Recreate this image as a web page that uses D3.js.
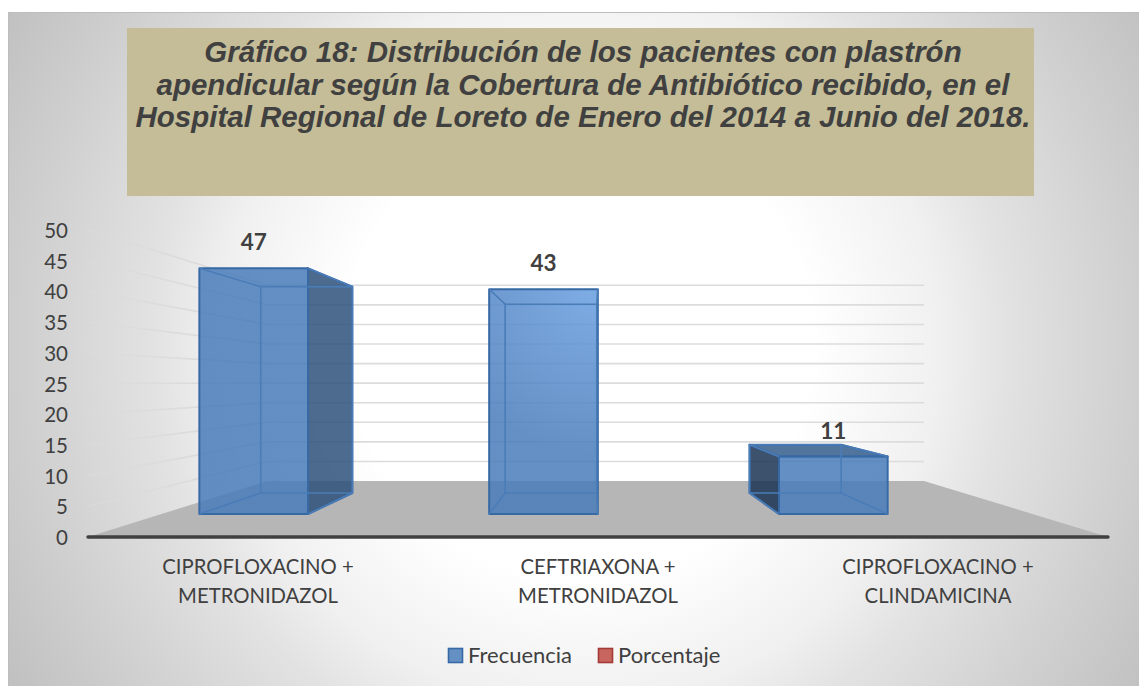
<!DOCTYPE html>
<html><head><meta charset="utf-8">
<script src="https://cdn.jsdelivr.net/npm/d3@7/dist/d3.min.js"></script>
<style>html,body{margin:0;padding:0;background:#fff;overflow:hidden}svg{display:block}</style>
</head><body><svg id="c" width="1139" height="686"></svg>
<script>
const titleLines = ["Gráfico 18: Distribución de los pacientes con plastrón","apendicular según la Cobertura de Antibiótico recibido, en el","Hospital Regional de Loreto de Enero del 2014 a Junio del 2018."];
const categories = [["CIPROFLOXACINO +","METRONIDAZOL"],["CEFTRIAXONA +","METRONIDAZOL"],["CIPROFLOXACINO +","CLINDAMICINA"]];
const seriesNames = ["Frecuencia","Porcentaje"];
const frecuencia = [47,43,11];
const yTicks = [0,5,10,15,20,25,30,35,40,45,50];

const svg = d3.select("#c");
const defs = svg.append("defs");
const bgGrad = defs.append("radialGradient").attr("id","bg").attr("gradientUnits","userSpaceOnUse")
  .attr("cx",580).attr("cy",345).attr("r",680);
[[0,"#fff"],[.34,"#fff"],[.53,"#f0f0f0"],[.63,"#e2e2e2"],[.81,"#d0d0d0"],[1,"#bebebe"]].forEach(s=>bgGrad.append("stop").attr("offset",s[0]).attr("stop-color",s[1]));
const wallGrad = defs.append("linearGradient").attr("id","wall").attr("gradientUnits","userSpaceOnUse")
  .attr("x1",88).attr("x2",267).attr("y1",0).attr("y2",0);
wallGrad.append("stop").attr("offset",0).attr("stop-color","#dcdcdc").attr("stop-opacity",.55);
wallGrad.append("stop").attr("offset",1).attr("stop-color","#d6d6d6").attr("stop-opacity",1);
const glow = defs.append("radialGradient").attr("id","front").attr("gradientUnits","userSpaceOnUse")
  .attr("cx",600).attr("cy",285).attr("r",170);
glow.append("stop").attr("offset",0).attr("stop-color","#6ea2e2").attr("stop-opacity",.88);
glow.append("stop").attr("offset",1).attr("stop-color","#497cba").attr("stop-opacity",.85);

svg.append("rect").attr("x",8.5).attr("y",12.5).attr("width",1140).attr("height",680)
  .attr("fill","url(#bg)").attr("stroke","#bdbdbd");

// title box
svg.append("rect").attr("x",127).attr("y",28).attr("width",907).attr("height",168).attr("fill","#c4bd97");
svg.append("g").selectAll("text").data(titleLines).join("text")
  .attr("x",583).attr("y",(d,i)=>62+i*32.5).attr("text-anchor","middle")
  .attr("font-family","'Liberation Sans',Arial,sans-serif").attr("font-weight","bold").attr("font-style","italic")
  .attr("font-size",29.5).attr("fill","#404040").text(d=>d);

// perspective frame: front plane (depth 0) to back wall (depth 1)
const yFront = d3.scaleLinear().domain([0,50]).range([537,230]);
const yBack = d3.scaleLinear().domain([0,50]).range([481,285.3]);
const xLeft = d3.scaleLinear().domain([0,1]).range([88,267]);
const xRight = d3.scaleLinear().domain([0,1]).range([1108,924]);
const yAt = (v,t)=>yFront(v)+(yBack(v)-yFront(v))*t;
const xAt = (u,t)=>xLeft(t)+(xRight(t)-xLeft(t))*u;
const pt = (u,v,t)=>[xAt(u,t),yAt(v,t)];
const poly = p=>p.map(q=>q.join(",")).join(" ");

// floor
svg.append("polygon").attr("points",poly([pt(0,0,0),pt(0,0,1),pt(1,0,1),pt(1,0,0)])).attr("fill","#b6b6b6");
// gridlines
const gv = yTicks.filter(v=>v>0);
svg.append("g").selectAll("line").data(gv).join("line")
  .attr("x1",xLeft(0)).attr("y1",v=>yFront(v)+.01).attr("x2",xLeft(1)).attr("y2",v=>yBack(v))
  .attr("stroke","url(#wall)").attr("stroke-width",1.6);
svg.append("g").selectAll("line").data(gv).join("line")
  .attr("x1",xLeft(1)).attr("y1",v=>yBack(v)).attr("x2",xRight(1)).attr("y2",v=>yBack(v))
  .attr("stroke","#dcdcdc").attr("stroke-width",1.6);

// bars
const band = d3.scaleBand().domain(d3.range(categories.length)).range([.002,1]);
const inner = d3.scaleBand().domain(seriesNames).range([0,band.bandwidth()]).paddingInner(0).paddingOuter(1/3);
const zFront=.41, zBack=.786;
const EDGE="#376aa5", INNER="#4a7cb8";
frecuencia.forEach((v,i)=>{
  const u0=band(i)+inner("Frecuencia"), u1=u0+inner.bandwidth();
  const A={bl:pt(u0,0,zFront),br:pt(u1,0,zFront),tl:pt(u0,v,zFront),tr:pt(u1,v,zFront)};
  const B={bl:pt(u0,0,zBack),br:pt(u1,0,zBack),tl:pt(u0,v,zBack),tr:pt(u1,v,zBack)};
  const g=svg.append("g");
  const leftOut=B.tl[0]<A.tl[0]-1, rightOut=B.tr[0]>A.tr[0]+1, topOut=B.tl[1]<A.tl[1]-1;
  if(rightOut) g.append("polygon").attr("points",poly([A.tr,B.tr,B.br,A.br])).attr("fill","rgba(46,81,122,.85)").attr("stroke",EDGE).attr("stroke-width",2).attr("stroke-linejoin","round");
  if(leftOut) g.append("polygon").attr("points",poly([A.tl,B.tl,B.bl,A.bl])).attr("fill","rgba(27,52,84,.85)").attr("stroke",EDGE).attr("stroke-width",2).attr("stroke-linejoin","round");
  if(topOut) g.append("polygon").attr("points",poly([A.tl,B.tl,B.tr,A.tr])).attr("fill","rgba(58,98,144,.88)").attr("stroke",EDGE).attr("stroke-width",2).attr("stroke-linejoin","round");
  g.append("polygon").attr("points",poly([A.tl,A.tr,A.br,A.bl])).attr("fill","url(#front)").attr("stroke",EDGE).attr("stroke-width",2).attr("stroke-linejoin","round");
  // inner edges of the translucent box
  g.append("polygon").attr("points",poly([B.tl,B.tr,B.br,B.bl])).attr("fill","none").attr("stroke",INNER).attr("stroke-width",1.6);
  [["tl"],["tr"],["bl"],["br"]].forEach(([k])=>g.append("line").attr("x1",A[k][0]).attr("y1",A[k][1]).attr("x2",B[k][0]).attr("y2",B[k][1]).attr("stroke",INNER).attr("stroke-width",1.6));
  svg.append("text").attr("x",(A.tl[0]+A.tr[0])/2).attr("y",A.tl[1]-18).attr("text-anchor","middle")
    .attr("font-family","Lato,sans-serif").attr("font-weight","bold").attr("font-size",22.5).attr("fill","#404040").text(v);
});

// baseline
svg.append("line").attr("x1",xLeft(0)).attr("x2",xRight(0)).attr("y1",yFront(0)).attr("y2",yFront(0))
  .attr("stroke","#404040").attr("stroke-width",3.4).attr("stroke-linecap","round");

// y tick labels
svg.append("g").selectAll("text").data(yTicks).join("text")
  .attr("x",68).attr("y",v=>yFront(v)+8).attr("text-anchor","end")
  .attr("font-family","Lato,sans-serif").attr("font-size",20.5).attr("fill","#404040").text(v=>v);

// category labels
const catX=d3.scaleBand().domain(d3.range(categories.length)).range([xLeft(0),xRight(0)]);
categories.forEach((lines,i)=>{
  svg.append("g").selectAll("text").data(lines).join("text")
    .attr("x",catX(i)+catX.bandwidth()/2).attr("y",(d,k)=>574+k*29).attr("text-anchor","middle")
    .attr("font-family","Lato,sans-serif").attr("font-size",20.3).attr("fill","#404040").text(d=>d);
});

// legend
const legendX=d3.scaleOrdinal().domain(seriesNames).range([448,598]);
const legendC=d3.scaleOrdinal().domain(seriesNames).range(["#6490c4","#c9655f"]);
const legendS=d3.scaleOrdinal().domain(seriesNames).range(["#376aa5","#a33a36"]);
seriesNames.forEach(s=>{
  svg.append("rect").attr("x",legendX(s)+.5).attr("y",648.5).attr("width",14).attr("height",14)
    .attr("fill",legendC(s)).attr("stroke",legendS(s)).attr("stroke-width",1.6);
  svg.append("text").attr("x",legendX(s)+20).attr("y",663).attr("font-family","Lato,sans-serif")
    .attr("font-size",22).attr("fill","#404040").text(s);
});
</script></body></html>
